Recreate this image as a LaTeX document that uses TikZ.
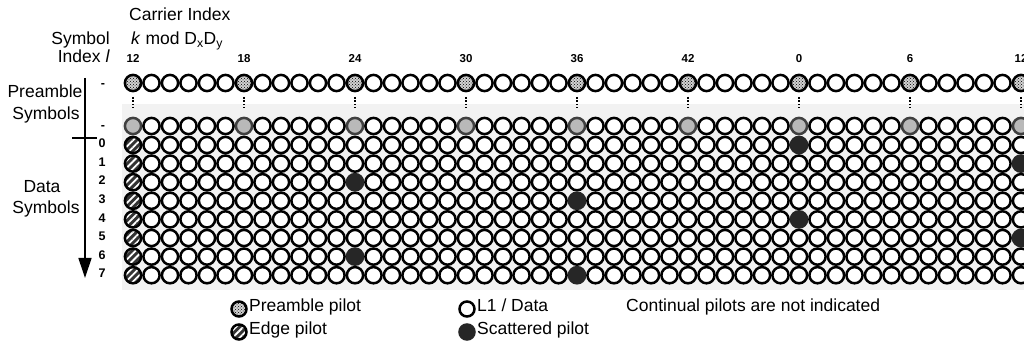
\documentclass[tikz,border=0pt]{standalone}
\usepackage{fontspec}
\setmainfont{Liberation Sans}
\usetikzlibrary{patterns,patterns.meta,arrows.meta}
\begin{document}
\begin{tikzpicture}[x=1pt,y=-1pt,
  cell/.style={draw=black,line width=2.5pt,fill=white},
  ring/.style={draw=black,line width=2.5pt},
  scat/.style={draw=black!85,line width=2.5pt,fill=black!85},
  pre2/.style={draw=black!75,line width=2.5pt,fill=gray!55},
  hdr/.style={inner sep=0pt,font=\fontsize{17.5}{20}\selectfont},
  collab/.style={inner sep=0pt,font=\fontsize{11.5}{13}\selectfont\bfseries},
  rowlab/.style={inner sep=0pt,font=\fontsize{12.5}{14}\selectfont\bfseries},
  axis/.style={line width=1.3pt,draw=black}]
\clip (0,0) rectangle (1024,344);
\fill[white] (0,0) rectangle (1024,344);
% background tint of grid
\fill[black!5] (122,104) rectangle (1024,290);
% headers
\node[hdr,anchor=mid west] (car) at (129,18) {Carrier Index};
\node[hdr,anchor=mid west] (kmod) at (131,42) {\textit{k} mod D\textsubscript{x}D\textsubscript{y}};
\node[hdr,anchor=mid east] (sym) at (110,42) {Symbol};
\node[hdr,anchor=mid east] (idx) at (110,60) {Index \textit{l}};
\foreach \lab [count=\i from 0] in {12,18,24,30,36,42,0,6,12}{
  \node[collab,anchor=mid] (cl\i) at ({133+111*\i},60) {\lab};
}
% side labels
\node[hdr,anchor=mid] (pre1) at (45,95) {Preamble};
\node[hdr,anchor=mid] (pre2t) at (46,117) {Symbols};
\node[hdr,anchor=mid] (dat1) at (42,190) {Data};
\node[hdr,anchor=mid] (dat2) at (46,211) {Symbols};
\coordinate (vtop) at (85,78);
\coordinate (vbot) at (85,278);
\coordinate (tl) at (72,138);
\coordinate (tr) at (97,138);
\draw[axis,-{Triangle[length=20pt,width=13pt]}] (vtop) -- (vbot);
\draw[axis] (tl) -- (tr);
\node[rowlab,anchor=mid] (rm1) at (103,85) {-};
\node[rowlab,anchor=mid] (rm2) at (103,127) {-};
\foreach \l in {0,...,7}{
  \node[rowlab,anchor=mid] (r\l) at (102,{145+18.6*\l}) {\l};
}
% preamble rows
\foreach \c in {0,...,48}{
  \pgfmathsetmacro\xx{133+18.5*\c}
  \pgfmathtruncatemacro\mm{mod(\c,6)}
  \ifnum\mm=0
    \fill[gray!35] (\xx,83) circle[radius=8.1pt];
    \fill[pattern=crosshatch dots,pattern color=black] (\xx,83) circle[radius=8.1pt];
    \draw[ring] (\xx,83) circle[radius=8.1pt];
    \draw[line width=1.8pt,dash pattern=on 1.6pt off 1.8pt] (\xx,97) -- (\xx,108);
    \draw[pre2] (\xx,126) circle[radius=8.1pt];
  \else
    \draw[cell] (\xx,83) circle[radius=8.1pt];
    \draw[cell] (\xx,126) circle[radius=8.1pt];
  \fi
}
% data rows
\foreach \l in {0,...,7}{
  \pgfmathsetmacro\yy{145+18.6*\l}
  \pgfmathtruncatemacro\sc{mod(36+12*\l,48)}
  \ifnum\sc=0 \def\sc{48}\fi
  \foreach \c in {0,...,48}{
    \pgfmathsetmacro\xx{133+18.5*\c}
    \ifnum\c=0
      \fill[black!80] (\xx,\yy) circle[radius=8.1pt];
      \fill[pattern={Lines[angle=45,distance=5pt,line width=1.8pt]},pattern color=white] (\xx,\yy) circle[radius=8.1pt];
      \draw[ring] (\xx,\yy) circle[radius=8.1pt];
    \else\ifnum\c=\sc
      \draw[scat] (\xx,\yy) circle[radius=8.1pt];
    \else
      \draw[cell] (\xx,\yy) circle[radius=8.1pt];
    \fi\fi
  }
}
% legend
\fill[gray!35] (239,309) circle[radius=7.5pt];
\fill[pattern=crosshatch dots,pattern color=black] (239,309) circle[radius=7.5pt];
\draw[ring] (239,309) circle[radius=7.5pt];
\node[hdr,anchor=mid west] (lg1) at (249,309) {Preamble pilot};
\fill[black!80] (239,332) circle[radius=7.5pt];
\fill[pattern={Lines[angle=45,distance=5pt,line width=1.8pt]},pattern color=white] (239,332) circle[radius=7.5pt];
\draw[ring] (239,332) circle[radius=7.5pt];
\node[hdr,anchor=mid west] (lg2) at (249,332) {Edge pilot};
\draw[cell] (467,309) circle[radius=7.5pt];
\node[hdr,anchor=mid west] (lg3) at (477,309) {L1 / Data};
\draw[scat] (467,332) circle[radius=7.5pt];
\node[hdr,anchor=mid west] (lg4) at (477,332) {Scattered pilot};
\node[hdr,anchor=mid west] (lg5) at (626,309) {Continual pilots are not indicated};
\end{tikzpicture}
\end{document}
